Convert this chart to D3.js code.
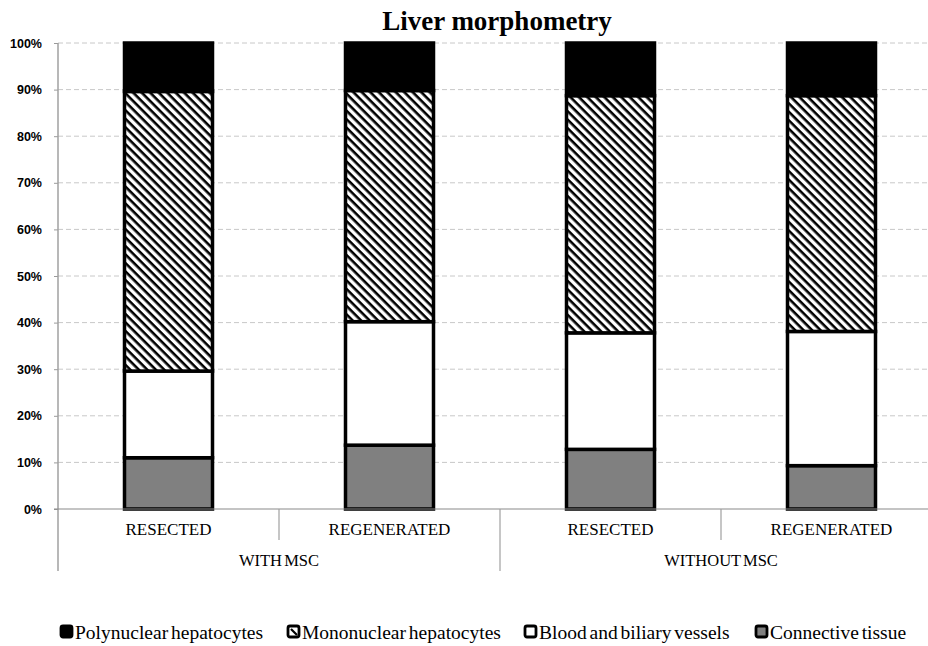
<!DOCTYPE html>
<html>
<head>
<meta charset="utf-8">
<script src="https://cdn.jsdelivr.net/npm/d3@7"></script>
<style>
  body { margin: 0; background: #fff; }
  svg { display: block; }
</style>
</head>
<body>
<svg id="chart" width="928" height="646"></svg>
<script>
// Sub-categories and their groups
const categories = ["RESECTED", "REGENERATED", "RESECTED", "REGENERATED"];
const groups = ["WITH MSC", "WITHOUT MSC"];
const seriesNames = ["Connective tissue", "Blood and biliary vessels", "Mononuclear hepatocytes", "Polynuclear hepatocytes"];

// Percent values per series (bottom to top), one per category
const connective = [11.0, 13.7, 12.8, 9.3];
const blood = [18.6, 26.5, 25.0, 28.8];
const mononuclear = [60.0, 49.6, 50.9, 50.6];
const polynuclear = [10.4, 10.2, 11.3, 11.3];

const yTicks = [0, 10, 20, 30, 40, 50, 60, 70, 80, 90, 100];

const svg = d3.select("#chart");
const margin = { left: 58, top: 43, bottom: 509 };
const plotRight = 942; // plot runs past the picture edge

const x = d3.scaleBand().domain(d3.range(categories.length))
  .range([margin.left, plotRight]).paddingInner(0).paddingOuter(0);
const y = d3.scaleLinear().domain([0, 100]).range([margin.bottom, margin.top]);

// hatch pattern, lines running top-left to bottom-right
const defs = svg.append("defs");
const pat = defs.append("pattern")
  .attr("id", "hatch").attr("patternUnits", "userSpaceOnUse")
  .attr("width", 6).attr("height", 6)
  .attr("patternTransform", "rotate(45)");
pat.append("rect").attr("width", 6).attr("height", 6).attr("fill", "#fff");
pat.append("line").attr("x1", 0).attr("y1", 0).attr("x2", 6).attr("y2", 0)
  .attr("stroke", "#000").attr("stroke-width", 5.2);

const serif = "Liberation Serif, Times New Roman, serif";

// Title
svg.append("text")
  .attr("x", 497).attr("y", 30)
  .attr("text-anchor", "middle")
  .attr("font-family", serif)
  .attr("font-weight", "bold").attr("font-size", 27)
  .text("Liver morphometry");

// gridlines
svg.append("g").selectAll("line")
  .data(yTicks.filter(d => d > 0))
  .join("line")
  .attr("x1", margin.left).attr("x2", plotRight)
  .attr("y1", d => y(d)).attr("y2", d => y(d))
  .attr("stroke", "#c8c8c8").attr("stroke-dasharray", "5,3");

// y axis
const yAxis = svg.append("g")
  .attr("transform", `translate(${margin.left},0)`)
  .call(d3.axisLeft(y).tickValues(yTicks).tickFormat(d => d + "%").tickSize(4).tickPadding(12));
yAxis.select(".domain").remove();
yAxis.selectAll(".tick line").attr("stroke", "#9a9a9a");
yAxis.selectAll(".tick text")
  .attr("font-family", "Liberation Sans, Arial, sans-serif")
  .attr("font-weight", "bold").attr("font-size", 12.5).attr("fill", "#000");
svg.append("line")
  .attr("x1", margin.left).attr("x2", margin.left)
  .attr("y1", margin.top).attr("y2", 571)
  .attr("stroke", "#a0a0a0").attr("stroke-width", 1.5);

// stacked bars
const table = categories.map((c, i) => ({
  i,
  "Connective tissue": connective[i],
  "Blood and biliary vessels": blood[i],
  "Mononuclear hepatocytes": mononuclear[i],
  "Polynuclear hepatocytes": polynuclear[i]
}));
const stacked = d3.stack().keys(seriesNames)(table);
const fills = {
  "Connective tissue": "#808080",
  "Blood and biliary vessels": "#fff",
  "Mononuclear hepatocytes": "url(#hatch)",
  "Polynuclear hepatocytes": "#000"
};
const barW = 88;
svg.append("g").selectAll("g")
  .data(stacked)
  .join("g")
  .attr("fill", s => fills[s.key])
  .selectAll("rect")
  .data(s => s)
  .join("rect")
  .attr("x", d => x(d.data.i) + x.bandwidth() / 2 - barW / 2)
  .attr("width", barW)
  .attr("y", d => y(d[1]))
  .attr("height", d => y(d[0]) - y(d[1]))
  .attr("stroke", "#000").attr("stroke-width", 3.5);

// category axis
svg.append("line")
  .attr("x1", margin.left - 4).attr("x2", plotRight)
  .attr("y1", margin.bottom).attr("y2", margin.bottom)
  .attr("stroke", "#8a8a8a").attr("stroke-width", 1.2);

svg.append("g").selectAll("text")
  .data(categories)
  .join("text")
  .attr("x", (d, i) => x(i) + x.bandwidth() / 2)
  .attr("y", 535)
  .attr("text-anchor", "middle")
  .attr("font-family", serif).attr("font-size", 17)
  .text(d => d);

// separators between sub-categories
svg.append("g").selectAll("line")
  .data([1, 3])
  .join("line")
  .attr("x1", i => x(i)).attr("x2", i => x(i))
  .attr("y1", margin.bottom).attr("y2", 540)
  .attr("stroke", "#a0a0a0").attr("stroke-width", 1.2);
// separators between groups
svg.append("g").selectAll("line")
  .data([2])
  .join("line")
  .attr("x1", i => x(i)).attr("x2", i => x(i))
  .attr("y1", margin.bottom).attr("y2", 571)
  .attr("stroke", "#a0a0a0").attr("stroke-width", 1.2);

svg.append("g").selectAll("text")
  .data(groups)
  .join("text")
  .attr("x", (d, g) => x(g * 2 + 1))
  .attr("y", 566)
  .attr("text-anchor", "middle")
  .attr("font-family", serif).attr("font-size", 16.5)
  .attr("word-spacing", -2)
  .text(d => d);

// legend
const legendOrder = ["Polynuclear hepatocytes", "Mononuclear hepatocytes", "Blood and biliary vessels", "Connective tissue"];
const legendX = [60, 287, 524, 755];
const lg = svg.append("g").selectAll("g")
  .data(legendOrder)
  .join("g")
  .attr("transform", (d, i) => `translate(${legendX[i]},639)`);
lg.append("rect")
  .attr("x", 1).attr("y", -13).attr("width", 11).attr("height", 11)
  .attr("rx", 2)
  .attr("fill", d => d === "Mononuclear hepatocytes" ? "#fff" : fills[d])
  .attr("stroke", "#000").attr("stroke-width", 2.8);
lg.filter(d => d === "Mononuclear hepatocytes").append("line")
  .attr("x1", 4).attr("y1", -10).attr("x2", 10).attr("y2", -4)
  .attr("stroke", "#000").attr("stroke-width", 2.2);
lg.append("text")
  .attr("x", 15).attr("y", 0)
  .attr("font-family", serif).attr("font-size", 19.5)
  .attr("word-spacing", -2)
  .text(d => d);
</script>
</body>
</html>
